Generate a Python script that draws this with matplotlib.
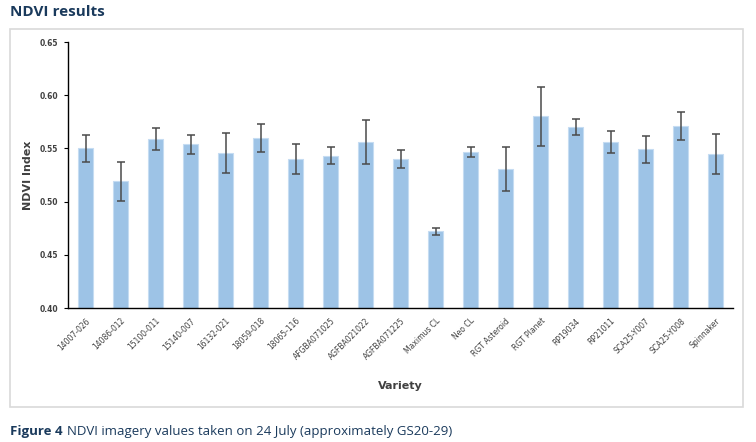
import matplotlib.pyplot as plt
from matplotlib.patches import Rectangle

varieties = ['14007-026', '14086-012', '15100-011', '15140-007', '16132-021',
             '18059-018', '18065-116', 'AFGBA071025', 'AGFBA021022', 'AGFBA071225',
             'Maximus CL', 'Neo CL', 'RGT Asteroid', 'RGT Planet', 'RP19034',
             'RP21011', 'SCA25-Y007', 'SCA25-Y008', 'Spinnaker']
ndvi = [0.550, 0.519, 0.559, 0.554, 0.546, 0.560, 0.540, 0.543, 0.556, 0.540,
        0.472, 0.547, 0.531, 0.580, 0.570, 0.556, 0.549, 0.571, 0.545]
err = [0.0125, 0.018, 0.0103, 0.009, 0.0187, 0.013, 0.014, 0.008, 0.0205, 0.0085,
       0.003, 0.0047, 0.0207, 0.0278, 0.0078, 0.0107, 0.0127, 0.0132, 0.0188]
yticks = [0.40, 0.45, 0.50, 0.55, 0.60, 0.65]

navy = '#1a3a5c'
grey = '#404040'

fig = plt.figure(figsize=(7.56, 4.42), dpi=100)
ax = fig.add_axes([68 / 756, 1 - 308 / 442, 665 / 756, 266 / 442])

x = range(len(varieties))
ax.bar(x, ndvi, width=0.45, color='#9dc3e6', edgecolor='#c5dcf2', linewidth=0.8,
       yerr=err, error_kw=dict(ecolor='#4a4a4a', elinewidth=1.1, capsize=3, capthick=1.1))

ax.set_xlim(-0.5, len(varieties) - 0.5)
ax.set_ylim(0.40, 0.65)
ax.set_yticks(yticks)
ax.set_yticklabels([f'{v:.2f}' for v in yticks], fontsize=5.5, color=grey,
                   fontweight='bold', family='DejaVu Sans')
ax.set_xticks(list(x))
ax.set_xticklabels(varieties, rotation=45, ha='right', rotation_mode='anchor',
                   fontsize=5.5, color=grey, family='DejaVu Sans')
ax.tick_params(axis='x', length=0, pad=6)
ax.tick_params(axis='y', length=3, width=0.8, pad=4)
ax.spines['top'].set_visible(False)
ax.spines['right'].set_visible(False)
ax.spines['left'].set_linewidth(1.0)
ax.spines['bottom'].set_linewidth(1.0)

ax.set_ylabel('NDVI Index', fontsize=8, fontweight='bold', color=grey, labelpad=5)
fig.text(400 / 756, 1 - 386 / 442, 'Variety', fontsize=8, fontweight='bold',
         color=grey, ha='center', va='center')

# frame around the chart
fig.patches.append(Rectangle((10 / 756, 1 - 407 / 442), 733 / 756, 378 / 442,
                             transform=fig.transFigure, fill=False,
                             edgecolor='#d9d9d9', linewidth=1.2))

fig.text(10 / 756, 1 - 12 / 442, 'NDVI results', fontsize=11, fontweight='bold',
         color=navy, ha='left', va='center', family='Open Sans')
fig.text(10 / 756, 1 - 431 / 442, 'Figure 4', fontsize=9.5, fontweight='bold',
         color=navy, ha='left', va='center', family='Open Sans')
fig.text(67 / 756, 1 - 431 / 442, 'NDVI imagery values taken on 24 July (approximately GS20-29)',
         fontsize=9.5, color=navy, ha='left', va='center', family='Open Sans')

fig.savefig('out.png', dpi=100)
